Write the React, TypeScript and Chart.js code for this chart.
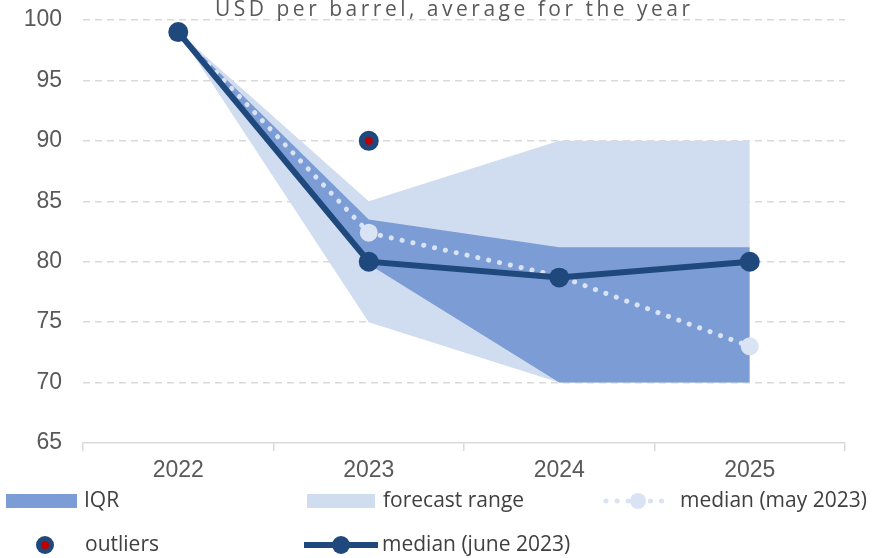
import React, { useEffect, useRef } from "react";
import { Chart, registerables } from "chart.js";

Chart.register(...registerables);

const categories = ["2022", "2023", "2024", "2025"];
const yTicks = [65, 70, 75, 80, 85, 90, 95, 100];
const medianJune = [99, 80, 78.7, 80];
const medianMay = [99, 82.4, 78.8, 73];
const iqrHigh = [99, 83.5, 81.2, 81.2];
const iqrLow = [99, 79.8, 70, 70];
const rangeHigh = [99, 85, 90, 90];
const rangeLow = [99, 75, 70, 70];
const outliers = [null, 90, null, null];
const titleText = "USD per barrel, average for the year";

const DARK = "#1F497D";
const IQR = "#7B9CD5";
const RANGE = "#D0DCEF";
const MAY = "#DAE3F3";
const RED = "#C00000";
const TEXT = "#595959";
const GRID = "#D9D9D9";

const titlePlugin = {
  id: "titleTop",
  afterDraw(chart: any) {
    const ctx = chart.ctx;
    ctx.save();
    ctx.font = "21px 'Open Sans'";
    (ctx as any).letterSpacing = "3.5px";
    ctx.fillStyle = TEXT;
    ctx.textAlign = "left";
    ctx.textBaseline = "alphabetic";
    ctx.fillText(titleText, 215, 16);
    ctx.restore();
  },
};

const legendPlugin = {
  id: "customLegend",
  afterDraw(chart: any) {
    const ctx = chart.ctx;
    ctx.save();
    const font = "21px 'Liberation Sans Narrow', 'Open Sans', sans-serif";
    ctx.font = font;
    ctx.fillStyle = "#404040";
    ctx.textBaseline = "middle";
    ctx.textAlign = "left";
    const r1 = 501;
    const r2 = 545;
    // IQR
    ctx.fillStyle = IQR;
    ctx.fillRect(6, r1 - 7, 71, 14);
    ctx.fillStyle = "#404040";
    ctx.fillText("IQR", 84, r1);
    // forecast range
    ctx.fillStyle = RANGE;
    ctx.fillRect(307, r1 - 7, 68, 14);
    ctx.fillStyle = "#404040";
    ctx.fillText("forecast range", 383, r1);
    // median may
    ctx.strokeStyle = MAY;
    ctx.lineWidth = 5;
    ctx.lineCap = "round";
    ctx.setLineDash([0.1, 11]);
    ctx.beginPath();
    ctx.moveTo(606, r1);
    ctx.lineTo(670, r1);
    ctx.stroke();
    ctx.setLineDash([]);
    ctx.fillStyle = MAY;
    ctx.beginPath();
    ctx.arc(638, r1, 8, 0, Math.PI * 2);
    ctx.fill();
    ctx.fillStyle = "#404040";
    ctx.fillText("median (may 2023)", 680, r1);
    // outliers
    ctx.fillStyle = DARK;
    ctx.beginPath();
    ctx.arc(45, r2, 9, 0, Math.PI * 2);
    ctx.fill();
    ctx.fillStyle = RED;
    ctx.beginPath();
    ctx.arc(45, r2, 4, 0, Math.PI * 2);
    ctx.fill();
    ctx.fillStyle = "#404040";
    ctx.fillText("outliers", 85, r2);
    // median june
    ctx.strokeStyle = DARK;
    ctx.lineWidth = 6;
    ctx.lineCap = "butt";
    ctx.beginPath();
    ctx.moveTo(304, r2);
    ctx.lineTo(378, r2);
    ctx.stroke();
    ctx.fillStyle = DARK;
    ctx.beginPath();
    ctx.arc(341, r2, 9, 0, Math.PI * 2);
    ctx.fill();
    ctx.fillStyle = "#404040";
    ctx.fillText("median (june 2023)", 382, r2);
    ctx.restore();
  },
};

export default function App() {
  const ref = useRef<HTMLCanvasElement>(null);
  useEffect(() => {
    if (!ref.current) return;
    const chart = new Chart(ref.current, {
      type: "line",
      data: {
        labels: categories,
        datasets: [
          {
            label: "outliers",
            data: outliers as any,
            showLine: false,
            pointRadius: 7,
            pointBorderWidth: 6,
            pointBackgroundColor: RED,
            pointBorderColor: DARK,
            order: 0,
          },
          {
            label: "median (june 2023)",
            data: medianJune,
            borderColor: DARK,
            borderWidth: 6,
            pointRadius: 10,
            pointBackgroundColor: DARK,
            pointBorderWidth: 0,
            fill: false,
            order: 1,
          },
          {
            label: "median (may 2023)",
            data: medianMay,
            borderColor: MAY,
            borderWidth: 5,
            borderDash: [0.1, 11],
            borderCapStyle: "round",
            pointRadius: 9,
            pointBackgroundColor: MAY,
            pointBorderWidth: 0,
            fill: false,
            order: 2,
          },
          {
            label: "iqrLow",
            data: iqrLow,
            borderWidth: 0,
            pointRadius: 0,
            fill: false,
            order: 3,
          },
          {
            label: "IQR",
            data: iqrHigh,
            borderWidth: 0,
            pointRadius: 0,
            backgroundColor: IQR,
            fill: { target: 3 },
            order: 4,
          },
          {
            label: "rangeLow",
            data: rangeLow,
            borderWidth: 0,
            pointRadius: 0,
            fill: false,
            order: 5,
          },
          {
            label: "forecast range",
            data: rangeHigh,
            borderWidth: 0,
            pointRadius: 0,
            backgroundColor: RANGE,
            fill: { target: 5 },
            order: 6,
          },
        ],
      },
      options: {
        responsive: false,
        animation: false,
        devicePixelRatio: 1,
        layout: { padding: { top: 20, right: 27, bottom: 70, left: 0 } },
        plugins: {
          legend: { display: false },
          tooltip: { enabled: false },
          title: { display: false },
        },
        elements: { line: { tension: 0 } },
        scales: {
          x: {
            offset: true,
            grid: {
              offset: true,
              display: true,
              drawOnChartArea: false,
              drawTicks: true,
              tickLength: 8,
              color: GRID,
              lineWidth: 1.5,
            },
            border: { display: true, color: GRID, width: 1.5 },
            ticks: {
              color: TEXT,
              font: { family: "'Liberation Sans', Arial", size: 23 },
              padding: 6,
            },
            afterFit(scale: any) {
              scale.height = 45;
            },
          },
          y: {
            min: 65,
            max: 100,
            afterBuildTicks(scale: any) {
              scale.ticks = yTicks.map((v) => ({ value: v }));
            },
            grid: {
              drawTicks: true,
              tickLength: 21,
              tickColor: "rgba(0,0,0,0)",
              color: (c: any) => (c.tick && c.tick.value === 65 ? "rgba(0,0,0,0)" : GRID),
              lineWidth: 1.5,
            },
            border: { display: false, dash: [7, 5] },
            ticks: {
              color: TEXT,
              font: { family: "'Liberation Sans', Arial", size: 23 },
              padding: 0,
              stepSize: 5,
            },
            afterFit(scale: any) {
              scale.width = 83;
            },
          },
        },
      } as any,
      plugins: [titlePlugin, legendPlugin],
    });
    return () => chart.destroy();
  }, []);
  return (
    <div style={{ position: "absolute", left: 0, top: 0, width: 872, height: 558, background: "#fff" }}>
      <canvas ref={ref} width={872} height={558} />
    </div>
  );
}
